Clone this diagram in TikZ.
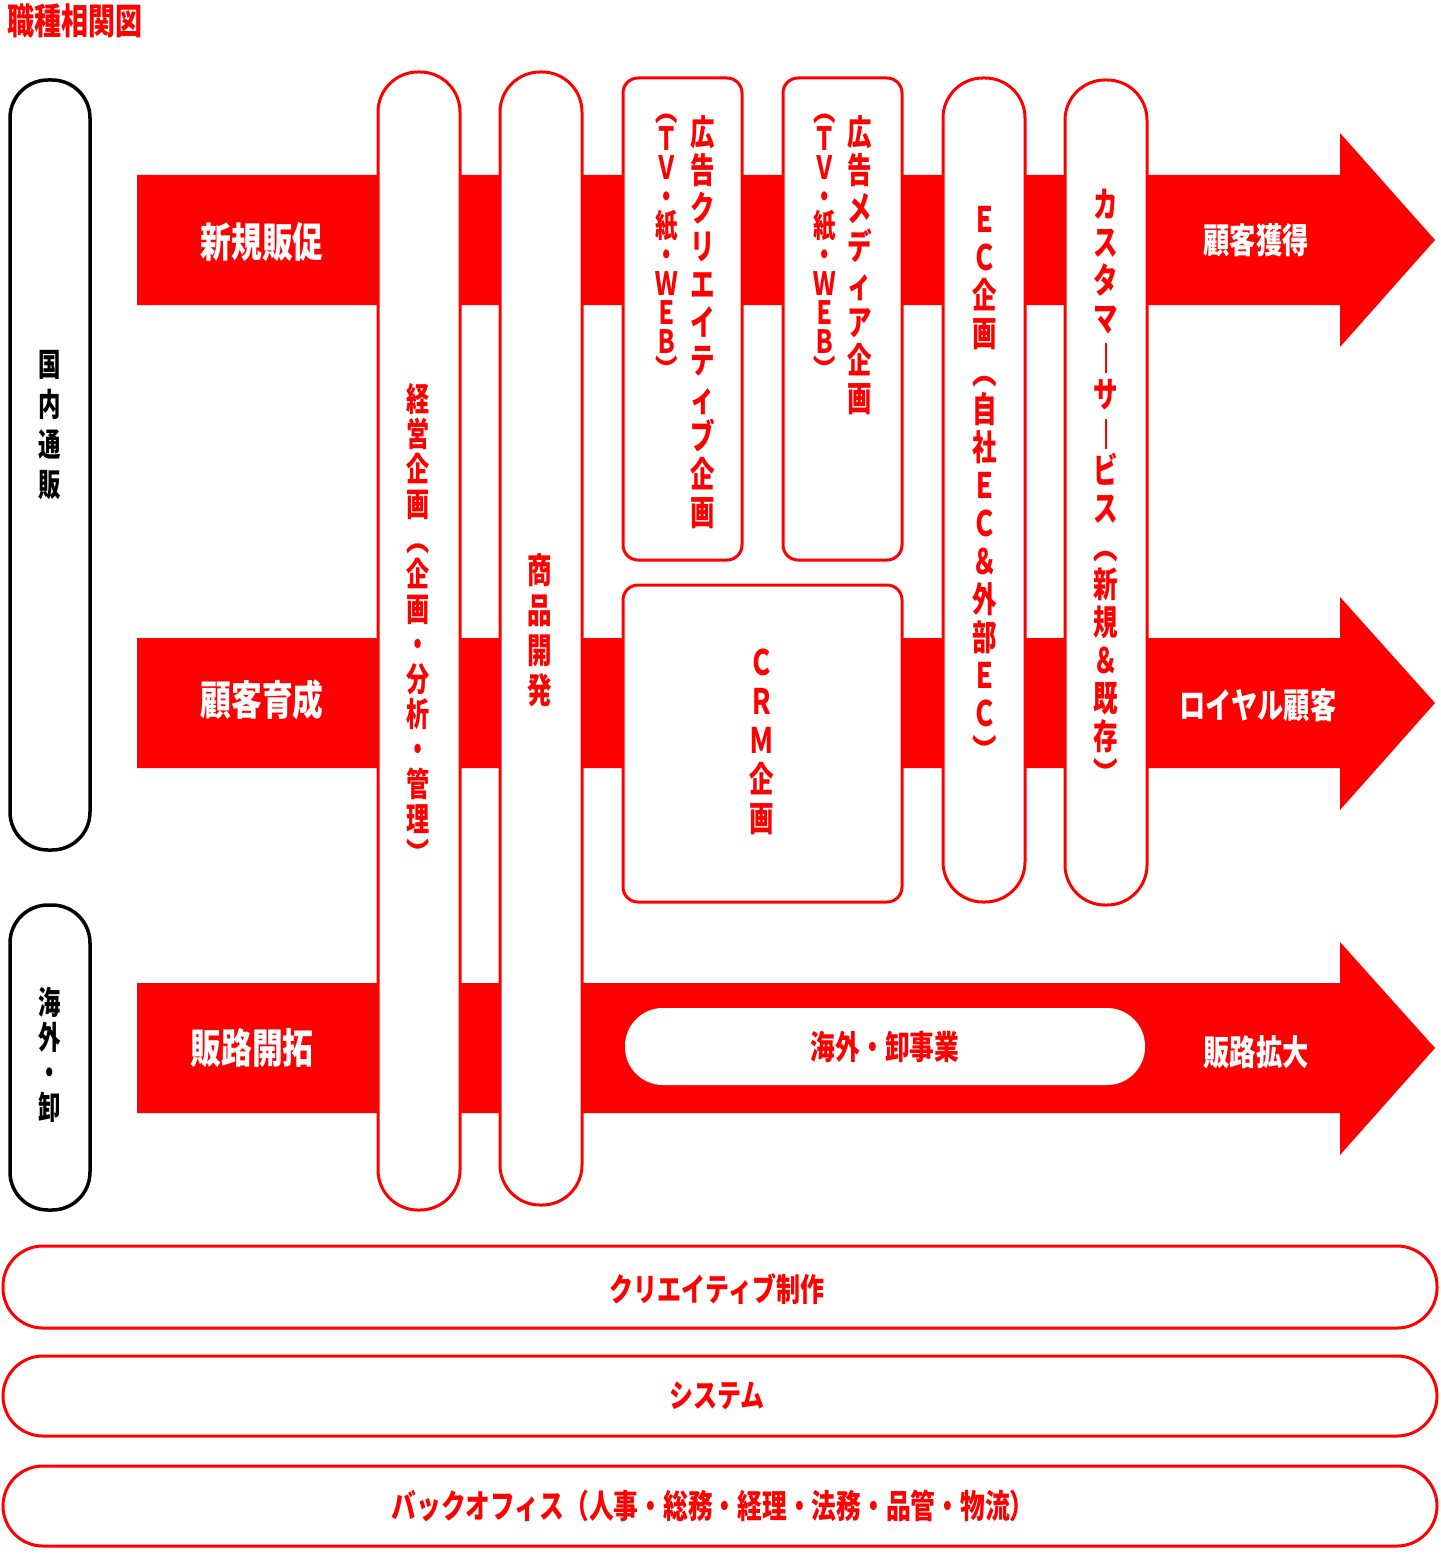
\documentclass[tikz,border=0pt]{standalone}
\usepackage{fontspec}
\usepackage{graphicx}
\newfontfamily\jp[FakeStretch=0.75]{Noto Sans CJK JP}
\newfontfamily\jpv[FakeStretch=0.7]{Noto Sans CJK JP}
\definecolor{hred}{HTML}{FF0000}
\newcommand\vbar{\rule[-0.1em]{2.8pt}{0.85em}}
\tikzset{
  band/.style={fill=hred, draw=none},
  pillred/.style={draw=hred, line width=3pt, fill=white},
  pillblack/.style={draw=black, line width=3.5pt, fill=white},
  vt/.style={text=hred, align=center, inner sep=0pt, font=\jpv\bfseries\fontsize{35}{38}\selectfont},
  hwhite/.style={text=white, inner sep=0pt, font=\jp\bfseries\fontsize{41}{42}\selectfont},
  hwhitesm/.style={text=white, inner sep=0pt, font=\jp\bfseries\fontsize{35}{36}\selectfont},
  hred/.style={text=hred, inner sep=0pt, font=\jp\bfseries\fontsize{33}{34}\selectfont},
}
\begin{document}
\begin{tikzpicture}[x=1pt,y=-1pt]
\useasboundingbox (0,0) rectangle (1440,1562);
% title
\node[anchor=west, text=hred, inner sep=0pt, font=\jp\bfseries\fontsize{36}{36}\selectfont] (title) at (7,21) {職種相関図};
% arrows
\fill[band] (137,175) -- (1340,175) -- (1340,133) -- (1435,240) -- (1340,347) -- (1340,305) -- (137,305) -- cycle;
\fill[band] (137,638) -- (1340,638) -- (1340,597) -- (1435,703) -- (1340,810) -- (1340,768) -- (137,768) -- cycle;
\fill[band] (137,983) -- (1340,983) -- (1340,942) -- (1435,1048) -- (1340,1155) -- (1340,1113) -- (137,1113) -- cycle;
% left black pills
\node[pillblack, rounded corners=38pt, minimum width=80pt, minimum height=770pt] (kokunai) at (50,465) {};
\node[pillblack, rounded corners=38pt, minimum width=80pt, minimum height=305pt] (kaigai) at (50,1057.5) {};
% vertical red pills
\node[pillred, rounded corners=40pt, minimum width=82pt, minimum height=1138pt] (keiei) at (419,641) {};
\node[pillred, rounded corners=40pt, minimum width=82pt, minimum height=1133pt] (shohin) at (541,638.5) {};
\node[pillred, rounded corners=15pt, minimum width=119pt, minimum height=482pt] (kcreative) at (682.5,319) {};
\node[pillred, rounded corners=15pt, minimum width=119pt, minimum height=482pt] (kmedia) at (842.5,319) {};
\node[pillred, rounded corners=15pt, minimum width=279pt, minimum height=317pt] (crm) at (762.5,743.5) {};
\node[pillred, rounded corners=40pt, minimum width=82pt, minimum height=824pt] (ec) at (984,490) {};
\node[pillred, rounded corners=40pt, minimum width=82pt, minimum height=825pt] (cs) at (1106,492.5) {};
% overseas pill
\node[fill=white, draw=none, rounded corners=38pt, minimum width=520pt, minimum height=77pt] (oroshi) at (885,1046.5) {};
% bottom pills
\node[pillred, rounded corners=40pt, minimum width=1434pt, minimum height=82pt] (creative) at (720,1287) {};
\node[pillred, rounded corners=40pt, minimum width=1434pt, minimum height=80pt] (system) at (720,1396) {};
\node[pillred, rounded corners=40pt, minimum width=1434pt, minimum height=80pt] (back) at (720,1506) {};
% arrow labels
\node[hwhite] (l1) at (262,242) {新規販促};
\node[hwhite] (l2) at (262,700) {顧客育成};
\node[hwhite] (l3) at (252,1048) {販路開拓};
\node[hwhitesm] (r1) at (1256,240) {顧客獲得};
\node[hwhitesm] (r2) at (1258,705) {ロイヤル顧客};
\node[hwhitesm] (r3) at (1256,1052) {販路拡大};
% left texts
\node[align=center, inner sep=0pt, text=black, font=\jpv\bfseries\fontsize{32}{40}\selectfont] (t1) at (kokunai.center |- 0,425) {国\\内\\通\\販};
\node[align=center, inner sep=0pt, text=black, font=\jpv\bfseries\fontsize{32}{35}\selectfont] (t2) at (kaigai.center |- 0,1055) {海\\外\\・\\卸};
% vertical texts
\node[vt, font=\jpv\bfseries\fontsize{33}{35}\selectfont] (t3) at (418,625) {経\\営\\企\\画\\︵\\企\\画\\・\\分\\析\\・\\管\\理\\︶};
\node[vt, font=\jpv\bfseries\fontsize{35}{40}\selectfont] (t4) at (540,630) {商\\品\\開\\発};
\node[vt] (t5) at (703,322) {広\\告\\ク\\リ\\エ\\イ\\テ\\ィ\\ブ\\企\\画};
\node[vt, font=\jpv\bfseries\fontsize{32}{29}\selectfont] (t6) at (667,248) {︵\\Ｔ\\Ｖ\\・\\紙\\・\\Ｗ\\Ｅ\\Ｂ\\︶};
\node[vt] (t7) at (860,265) {広\\告\\メ\\デ\\ィ\\ア\\企\\画};
\node[vt, font=\jpv\bfseries\fontsize{32}{29}\selectfont] (t8) at (825,248) {︵\\Ｔ\\Ｖ\\・\\紙\\・\\Ｗ\\Ｅ\\Ｂ\\︶};
\node[vt, font=\jpv\bfseries\fontsize{35}{39}\selectfont] (t9) at (762,742) {Ｃ\\Ｒ\\Ｍ\\企\\画};
\node[vt] (t10) at (985,485) {Ｅ\\Ｃ\\企\\画\\︵\\自\\社\\Ｅ\\Ｃ\\＆\\外\\部\\Ｅ\\Ｃ\\︶};
\node[vt] (t11) at (1106,488) {カ\\ス\\タ\\マ\\\vbar\\サ\\\vbar\\ビ\\ス\\︵\\新\\規\\＆\\既\\存\\︶};
% horizontal red texts
\node[hred] (t12) at (oroshi.center) {海外・卸事業};
\node[hred, font=\jp\bfseries\fontsize{32}{34}\selectfont] (t13) at (717,1289) {クリエイティブ制作};
\node[hred, font=\jp\bfseries\fontsize{32}{34}\selectfont] (t14) at (717,1396) {システム};
\node[hred, font=\jp\bfseries\fontsize{33}{34}\selectfont] (t15) at (713,1506) {バックオフィス（人事・総務・経理・法務・品管・物流）};
\end{tikzpicture}
\end{document}
